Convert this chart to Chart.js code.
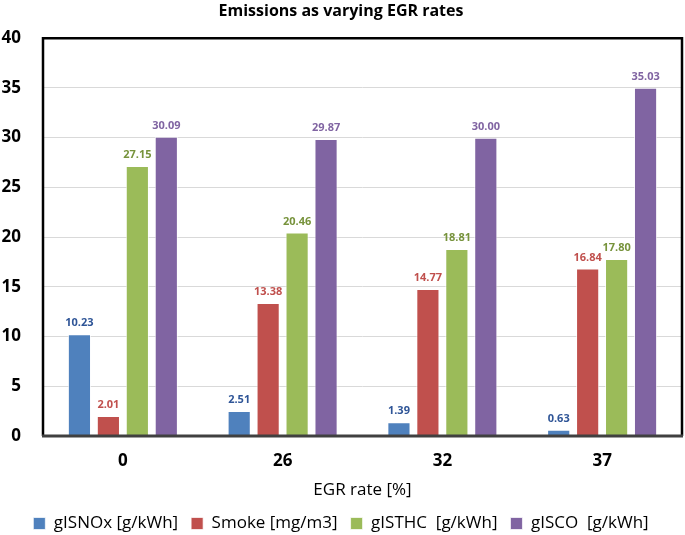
<!DOCTYPE html>
<html>
<head>
<meta charset="utf-8">
<script src="https://cdn.jsdelivr.net/npm/chart.js@4.4.1/dist/chart.umd.min.js"></script>
<style>
  html, body { margin: 0; padding: 0; background: #fff; }
  #wrap { width: 685px; height: 535px; }
</style>
</head>
<body>
<div id="wrap"><canvas id="chart" width="685" height="535"></canvas></div>
<script>
const egrRates = ['0', '26', '32', '37'];
const noxValues = [10.23, 2.51, 1.39, 0.63];
const smokeValues = [2.01, 13.38, 14.77, 16.84];
const thcValues = [27.15, 20.46, 18.81, 17.80];
const coValues = [30.09, 29.87, 30.00, 35.03];

const FONT = '"Open Sans", "Liberation Sans", sans-serif';

// values above each bar, in a darker tone of the bar colour
const barLabels = {
    id: 'barLabels',
    afterDatasetsDraw(chart) {
        const ctx = chart.ctx;
        ctx.save();
        ctx.font = 'bold 11px ' + FONT;
        ctx.textAlign = 'center';
        ctx.textBaseline = 'middle';
        chart.data.datasets.forEach((ds, i) => {
            const meta = chart.getDatasetMeta(i);
            ctx.fillStyle = ds.labelColor;
            meta.data.forEach((bar, j) => {
                ctx.fillText(ds.data[j].toFixed(2), bar.x, bar.y - 11);
            });
        });
        ctx.restore();
    }
};

// black frame round the plot area
const plotFrame = {
    id: 'plotFrame',
    afterDraw(chart) {
        const { ctx, chartArea: a } = chart;
        ctx.save();
        ctx.strokeStyle = '#000';
        ctx.lineWidth = 2.5;
        ctx.beginPath();
        ctx.moveTo(a.left, a.bottom);
        ctx.lineTo(a.left, a.top);
        ctx.lineTo(a.right, a.top);
        ctx.lineTo(a.right, a.bottom);
        ctx.stroke();
        ctx.strokeStyle = '#404040';
        ctx.lineWidth = 3;
        ctx.beginPath();
        ctx.moveTo(a.left - 1, a.bottom);
        ctx.lineTo(a.right + 1, a.bottom);
        ctx.stroke();
        ctx.restore();
    }
};

const series = [
    { label: 'gISNOx [g/kWh]', data: noxValues, color: '#4F81BD', labelColor: '#2F5597' },
    { label: 'Smoke [mg/m3]', data: smokeValues, color: '#C0504D', labelColor: '#C0504D' },
    { label: 'gISTHC  [g/kWh]', data: thcValues, color: '#9BBB59', labelColor: '#77933C' },
    { label: 'gISCO  [g/kWh]', data: coValues, color: '#8064A2', labelColor: '#8064A2' }
];

new Chart(document.getElementById('chart'), {
    type: 'bar',
    data: {
        labels: egrRates,
        datasets: series.map(s => ({
            label: s.label,
            data: s.data,
            backgroundColor: s.color,
            borderColor: 'rgba(255,255,255,0.7)',
            borderWidth: 1,
            labelColor: s.labelColor,
            categoryPercentage: 0.725,
            barPercentage: 0.8
        }))
    },
    options: {
        responsive: false,
        animation: false,
        layout: { padding: { left: 0, right: 3, top: 0, bottom: -7 } },
        plugins: {
            title: {
                display: true,
                text: 'Emissions as varying EGR rates',
                color: '#000',
                font: { family: FONT, size: 16, weight: 'bold' },
                padding: { top: 2, bottom: 17 }
            },
            legend: {
                position: 'bottom',
                labels: {
                    color: '#000',
                    font: { family: FONT, size: 17 },
                    boxWidth: 12,
                    boxHeight: 12,
                    padding: 13
                }
            },
            tooltip: { enabled: false }
        },
        scales: {
            x: {
                afterFit: scale => { scale.height = 66; },
                grid: { display: false, drawTicks: false, tickLength: 0 },
                border: { display: false },
                ticks: { color: '#000', font: { family: FONT, size: 17, weight: 'bold' }, padding: 15 },
                title: {
                    display: true,
                    text: 'EGR rate [%]',
                    color: '#000',
                    font: { family: FONT, size: 17 },
                    padding: { top: 0, bottom: 2 }
                }
            },
            y: {
                min: 0,
                max: 40,
                afterFit: scale => { scale.width = 43; },
                ticks: {
                    stepSize: 5,
                    color: '#000',
                    font: { family: FONT, size: 17, weight: 'bold' },
                    padding: 22
                },
                grid: { color: '#d9d9d9', drawTicks: false },
                border: { display: false }
            }
        }
    },
    plugins: [barLabels, plotFrame]
});
</script>
</body>
</html>
